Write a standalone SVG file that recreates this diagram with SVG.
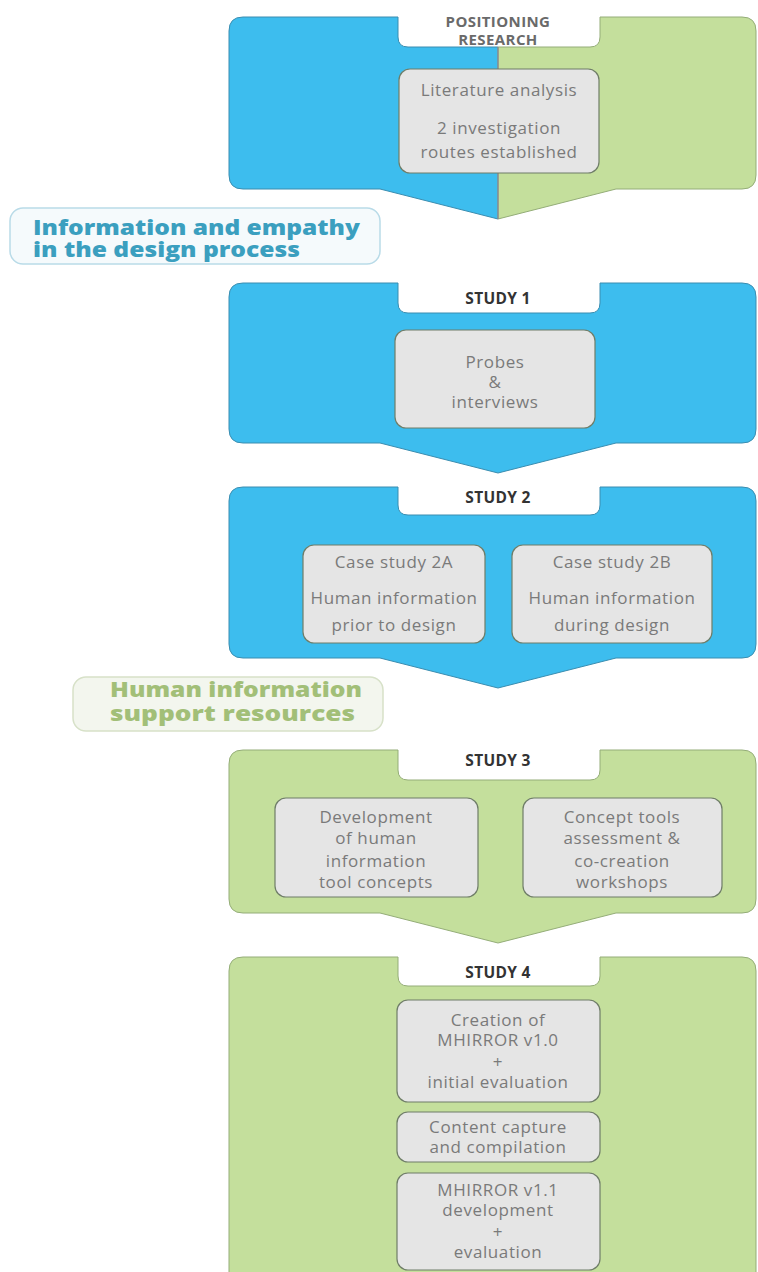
<svg xmlns="http://www.w3.org/2000/svg" width="758" height="1272" viewBox="0 0 758 1272">
  <defs>
    <style>
      .blue { fill: #3dbdee; stroke: #3a8db0; stroke-width: 1; }
      .green { fill: #c4df9c; stroke: #94ad78; stroke-width: 1; }
      .box { fill: #e5e5e5; stroke: #6f7d68; stroke-width: 1.2; }
      .tab { font-family: "Open Sans", "Liberation Sans", sans-serif; font-weight: 700; font-size: 15.5px; letter-spacing: 0.3px; fill: #333333; text-anchor: middle; }
      .tabgray { fill: #6a6a6a; font-size: 15px; letter-spacing: 0.4px; }
      .txt { font-family: "Open Sans", "Liberation Sans", sans-serif; font-size: 17px; letter-spacing: 0.6px; fill: #7a7a7a; text-anchor: middle; }
      .lbl { font-family: "Open Sans", "Liberation Sans", sans-serif; font-weight: 800; font-size: 21px; }
    </style>
    <clipPath id="leftHalf"><rect x="0" y="0" width="498" height="240"/></clipPath>
    <clipPath id="rightHalf"><rect x="498" y="0" width="260" height="240"/></clipPath>
  </defs>

  <!-- Positioning research (split blue / green) -->
  <g id="positioning">
    <path class="blue" clip-path="url(#leftHalf)" d="M243,17 H398 V37 Q398,47 408,47 H590 Q600,47 600,37 V17 H742 Q756,17 756,31 V175 Q756,189 742,189 H616 L498,219 L380,189 H243 Q229,189 229,175 V31 Q229,17 243,17 Z"/>
    <path class="green" clip-path="url(#rightHalf)" d="M243,17 H398 V37 Q398,47 408,47 H590 Q600,47 600,37 V17 H742 Q756,17 756,31 V175 Q756,189 742,189 H616 L498,219 L380,189 H243 Q229,189 229,175 V31 Q229,17 243,17 Z"/>
    <line x1="498" y1="47" x2="498" y2="219" stroke="#8a8a8a" stroke-width="1.5"/>
    <text class="tab tabgray" x="498" y="27">POSITIONING</text>
    <text class="tab tabgray" x="498" y="45">RESEARCH</text>
    <rect class="box" x="399" y="69" width="200" height="104" rx="11"/>
    <text class="txt" x="499" y="96">Literature analysis</text>
    <text class="txt" x="499" y="134">2  investigation</text>
    <text class="txt" x="499" y="158">routes established</text>
  </g>

  <!-- Route label: information and empathy -->
  <g id="label-empathy">
    <rect x="10" y="208" width="370" height="56" rx="13" fill="#f5fafc" stroke="#b9dbe8" stroke-width="1.5"/>
    <text class="lbl" x="33" y="235" fill="#3b9fbf" textLength="327" lengthAdjust="spacingAndGlyphs">Information and empathy</text>
    <text class="lbl" x="33" y="257" fill="#3b9fbf" textLength="267" lengthAdjust="spacingAndGlyphs">in the design process</text>
  </g>

  <!-- Study 1 -->
  <g id="study1">
    <path class="blue" d="M243,283 H398 V303 Q398,313 408,313 H590 Q600,313 600,303 V283 H742 Q756,283 756,297 V429 Q756,443 742,443 H616 L498,473 L380,443 H243 Q229,443 229,429 V297 Q229,283 243,283 Z"/>
    <text class="tab" x="498" y="304">STUDY 1</text>
    <rect class="box" x="395" y="330" width="200" height="98" rx="11"/>
    <text class="txt" x="495" y="368">Probes</text>
    <text class="txt" x="495" y="388">&amp;</text>
    <text class="txt" x="495" y="408">interviews</text>
  </g>

  <!-- Study 2 -->
  <g id="study2">
    <path class="blue" d="M243,487 H398 V505 Q398,515 408,515 H590 Q600,515 600,505 V487 H742 Q756,487 756,501 V644 Q756,658 742,658 H616 L498,688 L380,658 H243 Q229,658 229,644 V501 Q229,487 243,487 Z"/>
    <text class="tab" x="498" y="503">STUDY 2</text>
    <g id="case2a">
      <rect class="box" x="303" y="545" width="182" height="98" rx="11"/>
      <text class="txt" x="394" y="568">Case study 2A</text>
      <text class="txt" x="394" y="604">Human information</text>
      <text class="txt" x="394" y="631">prior to design</text>
    </g>
    <g id="case2b">
      <rect class="box" x="512" y="545" width="200" height="98" rx="11"/>
      <text class="txt" x="612" y="568">Case study 2B</text>
      <text class="txt" x="612" y="604">Human information</text>
      <text class="txt" x="612" y="631">during design</text>
    </g>
  </g>

  <!-- Route label: support resources -->
  <g id="label-resources">
    <rect x="73" y="677" width="310" height="54" rx="13" fill="#f3f6ee" stroke="#d7e1c8" stroke-width="1.5"/>
    <text class="lbl" x="110" y="697" fill="#a2bf78" textLength="252" lengthAdjust="spacingAndGlyphs">Human information</text>
    <text class="lbl" x="110" y="721" fill="#a2bf78" textLength="245" lengthAdjust="spacingAndGlyphs">support resources</text>
  </g>

  <!-- Study 3 -->
  <g id="study3">
    <path class="green" d="M243,750 H398 V770 Q398,780 408,780 H590 Q600,780 600,770 V750 H742 Q756,750 756,764 V899 Q756,913 742,913 H616 L498,943 L380,913 H243 Q229,913 229,899 V764 Q229,750 243,750 Z"/>
    <text class="tab" x="498" y="766">STUDY 3</text>
    <g id="dev-concepts">
      <rect class="box" x="275" y="798" width="203" height="99" rx="11"/>
      <text class="txt" x="376" y="823">Development</text>
      <text class="txt" x="376" y="844">of human</text>
      <text class="txt" x="376" y="867">information</text>
      <text class="txt" x="376" y="888">tool concepts</text>
    </g>
    <g id="assessment">
      <rect class="box" x="523" y="798" width="199" height="99" rx="11"/>
      <text class="txt" x="622" y="823">Concept tools</text>
      <text class="txt" x="622" y="844">assessment &amp;</text>
      <text class="txt" x="622" y="867">co-creation</text>
      <text class="txt" x="622" y="888">workshops</text>
    </g>
  </g>

  <!-- Study 4 -->
  <g id="study4">
    <path class="green" d="M243,957 H398 V976 Q398,986 408,986 H590 Q600,986 600,976 V957 H742 Q756,957 756,971 V1290 H229 V971 Q229,957 243,957 Z"/>
    <text class="tab" x="498" y="978">STUDY 4</text>
    <g id="mhirror10">
      <rect class="box" x="397" y="1000" width="203" height="102" rx="11"/>
      <text class="txt" x="498" y="1026">Creation of</text>
      <text class="txt" x="498" y="1046">MHIRROR v1.0</text>
      <text class="txt" x="498" y="1068">+</text>
      <text class="txt" x="498" y="1088">initial evaluation</text>
    </g>
    <g id="content-capture">
      <rect class="box" x="397" y="1112" width="203" height="50" rx="11"/>
      <text class="txt" x="498" y="1133">Content capture</text>
      <text class="txt" x="498" y="1153">and compilation</text>
    </g>
    <g id="mhirror11">
      <rect class="box" x="397" y="1173" width="203" height="97" rx="11"/>
      <text class="txt" x="498" y="1196">MHIRROR v1.1</text>
      <text class="txt" x="498" y="1216">development</text>
      <text class="txt" x="498" y="1238">+</text>
      <text class="txt" x="498" y="1258">evaluation</text>
    </g>
  </g>
</svg>
